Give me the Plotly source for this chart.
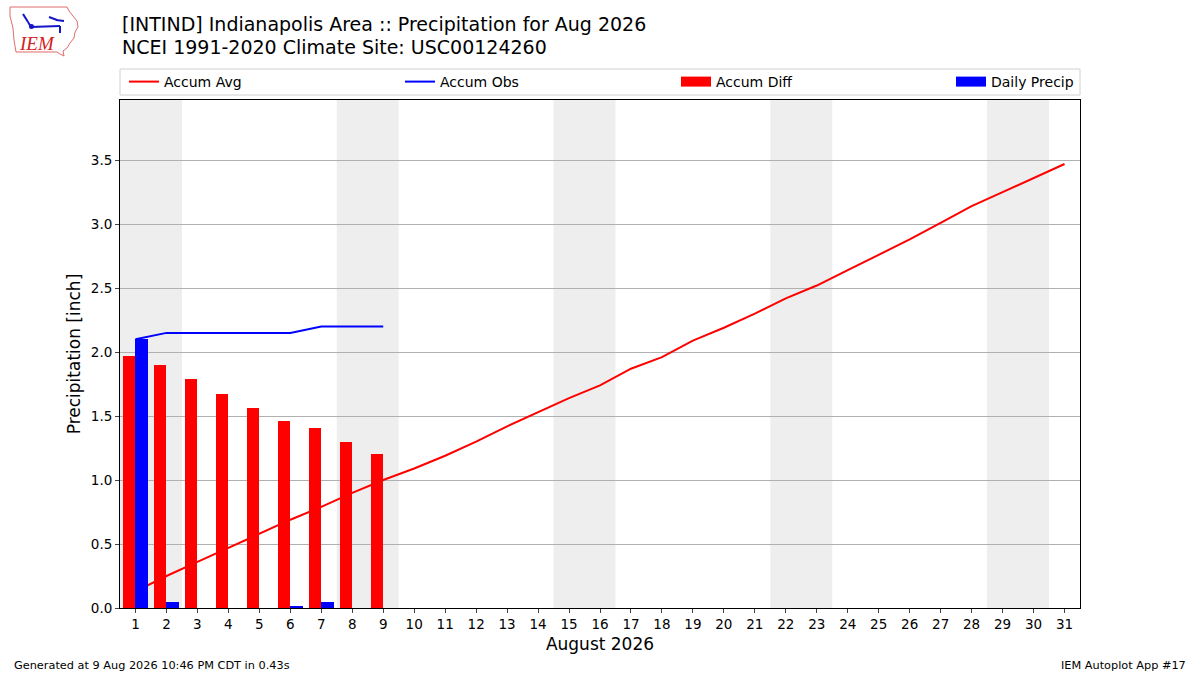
import plotly.graph_objects as go

# values (inches)
days = list(range(1, 32))
accum_avg = [0.13, 0.25, 0.36, 0.47, 0.58, 0.69, 0.79, 0.90, 1.00, 1.09,
             1.19, 1.30, 1.42, 1.53, 1.64, 1.74, 1.87, 1.96, 2.09, 2.19,
             2.30, 2.42, 2.52, 2.64, 2.76, 2.88, 3.01, 3.14, 3.25, 3.36, 3.47]
obs_days = list(range(1, 10))
accum_obs = [2.10, 2.15, 2.15, 2.15, 2.15, 2.15, 2.20, 2.20, 2.20]
accum_diff = [1.97, 1.90, 1.79, 1.67, 1.56, 1.46, 1.41, 1.30, 1.20]
daily_precip = [2.10, 0.05, 0.0, 0.0, 0.0, 0.01, 0.05, 0.0, 0.0]
weekends = [(1, 2), (8, 9), (15, 16), (22, 23), (29, 30)]

FONT = "DejaVu Sans"
W, H = 1200, 675
ML, MR, MT, MB = 120, 120, 100, 67
PW, PH = W - ML - MR, H - MT - MB
YMAX = 3.97


def px(x):
    # page pixel -> paper x
    return (x - ML) / PW


def py(y):
    # page pixel -> paper y
    return (H - MB - y) / PH


fig = go.Figure()

fig.add_trace(go.Scatter(x=days, y=accum_avg, mode="lines", name="Accum Avg",
                         line=dict(color="red", width=2), legend="legend"))
fig.add_trace(go.Scatter(x=obs_days, y=accum_obs, mode="lines", name="Accum Obs",
                         line=dict(color="blue", width=2), legend="legend2"))
# bars sit on an overlaid twin axis so they are drawn above the lines
fig.add_trace(go.Bar(x=obs_days, y=accum_diff, name="Accum Diff", marker_color="red",
                     marker_line_width=0, width=0.4, offset=-0.4, showlegend=False, yaxis="y2"))
fig.add_trace(go.Bar(x=obs_days, y=daily_precip, name="Daily Precip", marker_color="blue",
                     marker_line_width=0, width=0.4, offset=0.0, showlegend=False, yaxis="y2"))
# legend keys for the bars, drawn as wide patches like matplotlib
fig.add_trace(go.Scatter(x=[None], y=[None], mode="lines", name="Accum Diff",
                         line=dict(color="red", width=11), legend="legend3"))
fig.add_trace(go.Scatter(x=[None], y=[None], mode="lines", name="Daily Precip",
                         line=dict(color="blue", width=11), legend="legend4"))

# weekend shading
for a, b in weekends:
    fig.add_vrect(x0=a - 0.5, x1=b + 0.5, fillcolor="#eeeeee", line_width=0, layer="below")

# legend frame spanning the axes width
fig.add_shape(type="rect", xref="paper", yref="paper", x0=0, x1=1, y0=py(95), y1=py(69),
              line=dict(color="#d0d0d0", width=1), fillcolor="white", layer="below")

# rough IEM logo: state outline + instrument
iowa = [(10, 7), (67, 7), (69, 11), (73, 16), (77, 21), (78, 27), (75, 32), (74, 38),
        (70, 43), (67, 48), (63, 51), (64, 56), (60, 54), (57, 52), (16, 52), (14, 40),
        (13, 28), (10, 16)]
path = "M " + " L ".join(f"{px(a):.5f},{py(b):.5f}" for a, b in iowa) + " Z"
fig.add_shape(type="path", path=path, xref="paper", yref="paper",
              line=dict(color="#e06a6a", width=1))
for x0, y0, x1, y1 in [(31, 27, 60, 26), (60, 26, 60, 33), (23, 14, 28, 22), (28, 22, 31, 27),
                       (49, 17, 57, 20), (56, 20, 64, 21)]:
    fig.add_shape(type="line", xref="paper", yref="paper", x0=px(x0), y0=py(y0),
                  x1=px(x1), y1=py(y1), line=dict(color="#1515c8", width=2))
fig.add_shape(type="circle", xref="paper", yref="paper", x0=px(29), x1=px(34), y0=py(29), y1=py(24),
              fillcolor="#1515c8", line_width=0)

legends = {}
for key, tx in [("legend", 164), ("legend2", 440), ("legend3", 716), ("legend4", 991)]:
    legends[key] = dict(orientation="h", x=px(tx - 40), y=py(82), xanchor="left", yanchor="middle",
                        font=dict(size=14), bgcolor="rgba(0,0,0,0)", borderwidth=0)

fig.update_layout(
    width=W, height=H,
    margin=dict(l=ML, r=MR, t=MT, b=MB),
    paper_bgcolor="white", plot_bgcolor="white",
    font=dict(family=FONT, size=13.5, color="black"),
    barmode="overlay",
    bargap=0,
    showlegend=True,
    **legends,
    xaxis=dict(range=[0.5, 31.5], tickmode="array", tickvals=days,
               ticktext=[str(d) for d in days], ticks="outside", ticklen=4,
               showgrid=False, zeroline=False, showline=True, linecolor="black",
               linewidth=1, mirror=True,
               title=dict(text="August 2026", font=dict(size=17), standoff=6)),
    yaxis=dict(range=[0, YMAX], tickmode="array", tickvals=[0, 0.5, 1, 1.5, 2, 2.5, 3, 3.5],
               tickformat=".1f", ticks="outside", ticklen=4,
               showgrid=True, gridcolor="#b0b0b0", gridwidth=1, zeroline=False,
               showline=True, linecolor="black", linewidth=1, mirror=True,
               title=dict(text="Precipitation [inch]", font=dict(size=17), standoff=5)),
    yaxis2=dict(range=[0, YMAX], overlaying="y", visible=False, showgrid=False),
)

fig.add_annotation(text="[INTIND] Indianapolis Area :: Precipitation for Aug 2026",
                   xref="paper", yref="paper", x=0, y=py(24), xanchor="left", yanchor="middle",
                   showarrow=False, font=dict(size=19))
fig.add_annotation(text="NCEI 1991-2020 Climate Site: USC00124260",
                   xref="paper", yref="paper", x=0, y=py(47), xanchor="left", yanchor="middle",
                   showarrow=False, font=dict(size=19))

fig.add_annotation(text="<i>IEM</i>", xref="paper", yref="paper",
                   x=px(37), y=py(44), xanchor="center", yanchor="middle",
                   showarrow=False, font=dict(family="Liberation Serif", size=19, color="#d42020"))

fig.add_annotation(text="Generated at 9 Aug 2026 10:46 PM CDT in 0.43s", xref="paper", yref="paper",
                   x=px(12), y=py(665), xanchor="left", yanchor="middle",
                   showarrow=False, font=dict(size=11.3))
fig.add_annotation(text="IEM Autoplot App #17", xref="paper", yref="paper",
                   x=px(1188), y=py(665), xanchor="right", yanchor="middle",
                   showarrow=False, font=dict(size=11.3))

fig.write_html("out.html", config={"displayModeBar": False},
               post_script="document.body.style.margin='0';")
